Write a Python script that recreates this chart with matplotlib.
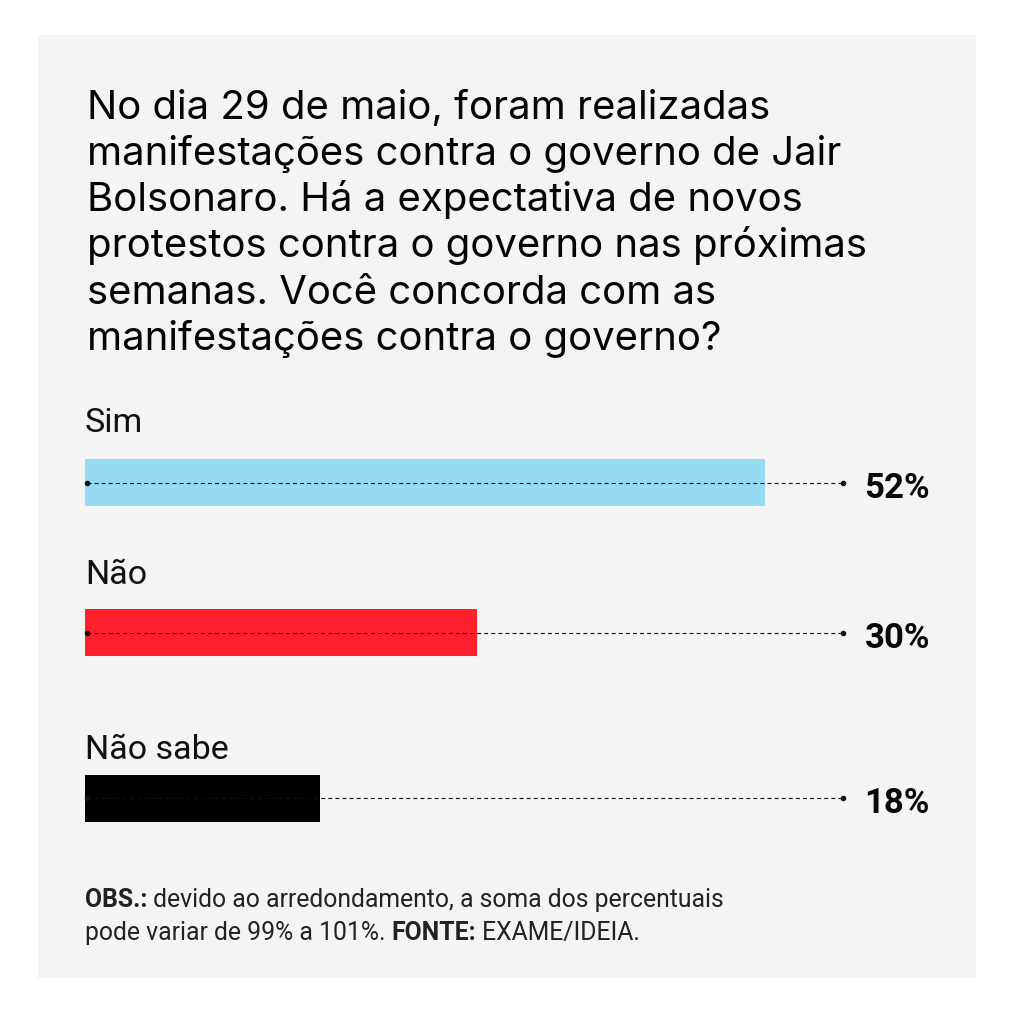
import matplotlib
matplotlib.use('Agg')
import matplotlib.pyplot as plt
from matplotlib.patches import Rectangle

# ---------------- data ----------------
categories = ['Sim', 'Não', 'Não sabe']
values = [52, 30, 18]
value_labels = ['52%', '30%', '18%']
colors = ['#97DBF2', '#FF1F2D', '#000000']

title_lines = [
    'No dia 29 de maio, foram realizadas',
    'manifestações contra o governo de Jair',
    'Bolsonaro. Há a expectativa de novos',
    'protestos contra o governo nas próximas',
    'semanas. Você concorda com as',
    'manifestações contra o governo?',
]
note_line1 = [('OBS.:', 'bold'), (' devido ao arredondamento, a soma dos percentuais', 'normal')]
note_line2 = [('pode variar de 99% a 101%. ', 'normal'), ('FONTE:', 'bold'), (' EXAME/IDEIA.', 'normal')]

# ---------------- layout (pixels) ----------------
W, H, DPI = 1013, 1023, 100
bar_centers_px = [482.5, 632.5, 798]
label_baselines_px = [432, 584, 759]
bar_height_px = 47
px_per_unit = 13.08
x_max = 65
plt.rcParams['lines.scale_dashes'] = False

title_font = ['Inter', 'Roboto', 'DejaVu Sans']
main_font = ['Roboto', 'DejaVu Sans']
note_font = ['Roboto', 'DejaVu Sans']

fig = plt.figure(figsize=(W / DPI, H / DPI), dpi=DPI, facecolor='white')

# gray panel
fig.patches.append(Rectangle((38 / W, 1 - 978 / H), 938 / W, 943 / H,
                             transform=fig.transFigure, facecolor='#F4F4F4',
                             edgecolor='none', zorder=-5))

# title
for i, line in enumerate(title_lines):
    y_px = 118.5 + i * 46.3
    fig.text(87 / W, 1 - y_px / H, line, ha='left', va='baseline',
             fontsize=28.9, family=title_font, color='#050505')

# bars axes
ax_top, ax_bot = 390, 850
ax = fig.add_axes([85 / W, 1 - ax_bot / H, x_max * px_per_unit / W, (ax_bot - ax_top) / H])
ax.set_zorder(2)
ax.set_xlim(0, x_max)
ax.set_ylim(ax_bot, ax_top)
ax.axis('off')
ax.patch.set_alpha(0)

ax.barh(bar_centers_px, values, height=bar_height_px, color=colors, zorder=1)

line_end = 57.95
for cat, c, b, lab in zip(categories, bar_centers_px, label_baselines_px, value_labels):
    ax.text(0, b, cat, ha='left', va='baseline', fontsize=24.5,
            family=main_font, color='#111111')
    ax.plot([0.15, line_end], [c, c], color='#111111', lw=0.8,
            dashes=(2.9, 2.2), zorder=2, clip_on=False)
    ax.plot([0.15, line_end], [c, c], 'o', color='#111111', ms=3, zorder=3, clip_on=False)
    ax.text(64.6, c + 2, lab, ha='right', va='center_baseline', fontsize=25,
            fontweight='bold', family=main_font, color='#0A0A0A')

# footer note with mixed weights
fig.canvas.draw()
renderer = fig.canvas.get_renderer()

def draw_runs(runs, x_px, y_px):
    x = x_px
    for txt, weight in runs:
        t = fig.text(x / W, 1 - y_px / H, txt, ha='left', va='baseline',
                     fontsize=17.8, fontweight=weight, family=note_font,
                     color='#222222')
        bb = t.get_window_extent(renderer=renderer)
        x += bb.width

draw_runs(note_line1, 85, 907)
draw_runs(note_line2, 85, 940)

fig.savefig('out.png', dpi=DPI, facecolor='white')
